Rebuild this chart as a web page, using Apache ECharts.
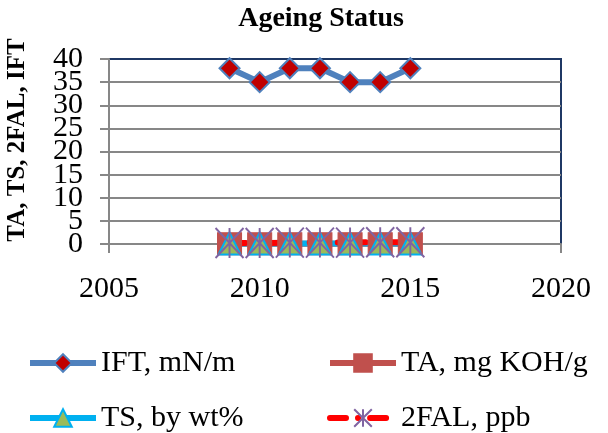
<!DOCTYPE html>
<html>
<head>
<meta charset="utf-8">
<script src="https://cdn.jsdelivr.net/npm/echarts@6/dist/echarts.min.js"></script>
<style>
  html, body { margin: 0; padding: 0; background: #fff; }
  #chart { width: 608px; height: 433px; }
</style>
</head>
<body>
<div id="chart"></div>
<script>
// 年份
var years = [2009, 2010, 2011, 2012, 2013, 2014, 2015];
// 各指标数值
var ift = [38, 35, 38, 38, 35, 35, 38];
var ta = [0.05, 0.05, 0.06, 0.06, 0.07, 0.08, 0.08];
var ts = [0.1, 0.1, 0.1, 0.1, 0.1, 0.1, 0.1];
var fal = [0.2, 0.2, 0.3, 0.3, 0.3, 0.4, 0.4];
var seriesNames = ["IFT, mN/m", "TA, mg KOH/g", "TS, by wt%", "2FAL, ppb"];
var xTicks = [2005, 2020, 5];
// 纵轴刻度标签
var yTickLabels = ["0", "5", "10", "15", "20", "25", "30", "35", "40"];

function pairs(vals) {
  return years.map(function (y, i) { return [y, vals[i]]; });
}

var serif = "Liberation Serif";
var chart = echarts.init(document.getElementById("chart"));

var legendBox = function (name, left, top) {
  return {
    data: [name],
    left: left,
    top: top,
    itemWidth: 66,
    itemHeight: 22,
    itemGap: 0,
    lineStyle: { width: 6 },
    textStyle: { fontFamily: serif, fontSize: 30, color: "#000" }
  };
};

var yMax = Number(yTickLabels[yTickLabels.length - 1]);
var yStep = Number(yTickLabels[1]) - Number(yTickLabels[0]);

var option = {
  animation: false,
  title: {
    text: "Ageing Status",
    left: 316,
    textAlign: "center",
    top: 0,
    textStyle: { fontFamily: serif, fontSize: 28, fontWeight: "bold", color: "#000" }
  },
  graphic: [
    {
      type: "text",
      x: 18,
      y: 140,
      rotation: Math.PI / 2,
      style: {
        text: "TA, TS, 2FAL, IFT",
        font: "bold 25px " + serif,
        fill: "#000",
        textAlign: "center",
        textVerticalAlign: "middle"
      }
    }
  ],
  legend: [
    legendBox(seriesNames[0], 22, 343),
    legendBox(seriesNames[1], 322, 343),
    legendBox(seriesNames[2], 22, 398),
    legendBox(seriesNames[3], 322, 398)
  ],
  grid: {
    left: 109,
    right: 47,
    top: 59,
    bottom: 189,
    show: true,
    borderColor: "#1f3864",
    borderWidth: 2,
    backgroundColor: "transparent"
  },
  xAxis: {
    type: "value",
    min: xTicks[0],
    max: xTicks[1],
    interval: xTicks[2],
    axisLine: { lineStyle: { color: "#878787", width: 2 } },
    axisTick: { show: true, length: 9, lineStyle: { color: "#878787", width: 2 } },
    splitLine: { show: false },
    axisLabel: {
      fontFamily: serif, fontSize: 30, color: "#000", margin: 30,
      showMinLabel: true, showMaxLabel: true,
      formatter: function (v) { return String(v); }
    }
  },
  yAxis: [
    {
      type: "value",
      min: 0,
      max: yMax,
      interval: yStep,
      axisLine: { show: true, lineStyle: { color: "#878787", width: 2 } },
      axisTick: { show: true, length: 9, lineStyle: { color: "#878787", width: 2 } },
      splitLine: { show: true, showMaxLine: false, lineStyle: { color: "#878787", width: 2 } },
      axisLabel: { show: false }
    },
    {
      // 只负责显示刻度文字（标签较大，互相重叠）
      type: "category",
      position: "left",
      data: yTickLabels,
      boundaryGap: false,
      axisLine: { show: false },
      axisTick: { show: false },
      splitLine: { show: false },
      axisLabel: { interval: 0, margin: 26, fontFamily: serif, fontSize: 30, color: "#000" }
    }
  ],
  series: [
    {
      name: seriesNames[0],
      type: "line",
      data: pairs(ift),
      symbol: "diamond",
      symbolSize: 20,
      lineStyle: { color: "#4f81bd", width: 6 },
      itemStyle: { color: "#c00000", borderColor: "#4f81bd", borderWidth: 2 }
    },
    {
      name: seriesNames[1],
      type: "line",
      data: pairs(ta),
      symbol: "rect",
      symbolSize: [24, 22],
      lineStyle: { color: "#c0504d", width: 6 },
      itemStyle: { color: "#c0504d", borderColor: "#c0504d", borderWidth: 1 }
    },
    {
      name: seriesNames[2],
      type: "line",
      data: pairs(ts),
      symbol: "triangle",
      symbolSize: [22, 22],
      lineStyle: { color: "#00b0f0", width: 6 },
      itemStyle: { color: "#9bbb59", borderColor: "#00b0f0", borderWidth: 2 }
    },
    {
      name: seriesNames[3],
      type: "line",
      data: pairs(fal),
      symbol: "path://M0,0L20,24M20,0L0,24M10,0L10,24",
      symbolSize: [28, 30],
      lineStyle: { color: "#ff0000", width: 6, type: [16, 12, 0.1, 12], cap: "round" },
      itemStyle: { color: "rgba(0,0,0,0)", borderColor: "#8064a2", borderWidth: 2 }
    }
  ]
};
chart.setOption(option);
</script>
</body>
</html>
